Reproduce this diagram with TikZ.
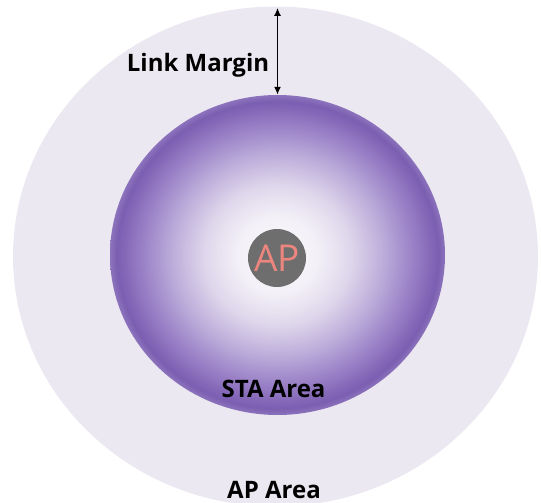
\documentclass[tikz,border=0pt]{standalone}
\usepackage{fontspec}
\setmainfont{Open Sans}
\usetikzlibrary{shapes.geometric,arrows.meta}
\definecolor{apbg}{HTML}{ECE8F1}
\definecolor{apgray}{HTML}{6E6E6E}
\definecolor{aptext}{HTML}{EC857E}
\definecolor{s0}{HTML}{FAF9FC}
\definecolor{s1}{HTML}{F3F0F7}
\definecolor{s2}{HTML}{DED6EB}
\definecolor{s3}{HTML}{BAAAD9}
\definecolor{s4}{HTML}{9479C3}
\definecolor{s5}{HTML}{7B5EB1}
\definecolor{s6}{HTML}{8C73BC}
\pgfdeclareradialshading{stashade}{\pgfpoint{0bp}{0bp}}{%
  color(0bp)=(s0); color(6bp)=(s1); color(11bp)=(s2); color(16bp)=(s3);
  color(21bp)=(s4); color(24bp)=(s5); color(25bp)=(s6); color(50bp)=(s6)}
\tikzset{
  area/.style={ellipse, inner sep=0pt, draw=none},
  lbl/.style={font=\bfseries\fontsize{24}{28}\selectfont, text=black, inner sep=0pt, anchor=base},
  margin/.style={{Latex[length=8pt,width=7pt]}-{Latex[length=8pt,width=7pt]}, line width=1.6pt, black}
}
\begin{document}
\begin{tikzpicture}[x=1pt,y=-1pt]
\useasboundingbox (0,0) rectangle (541,503);
\node[area, fill=apbg, minimum width=525pt, minimum height=500pt] (outer) at (275.5,256.5) {};
\node[area, shading=stashade, minimum width=335pt, minimum height=320pt] (sta) at (277.5,255) {};
\node[circle, fill=apgray, minimum size=58pt, inner sep=0pt, text=aptext,
      font=\fontsize{37}{42}\selectfont] (ap) at (277,258) {AP};
\coordinate (mtop) at (sta.north |- outer.north);
\draw[margin] ([yshift=-1.5pt]mtop) -- (sta.north);
\node[lbl] (lm) at (198,72) {Link Margin};
\node[lbl] (stalbl) at (273.5,397) {STA Area};
\node[lbl] (aplbl) at (274,498) {AP Area};
\end{tikzpicture}
\end{document}
